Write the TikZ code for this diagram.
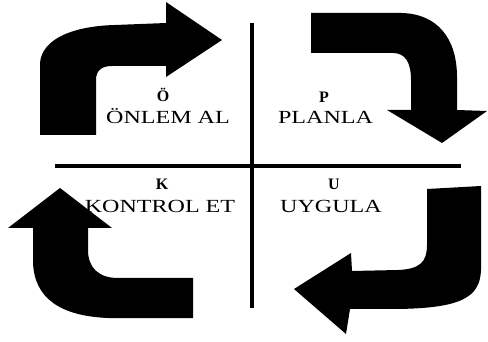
\documentclass[tikz,border=0pt]{standalone}
\usepackage{fontspec}
\setmainfont{Liberation Serif}
\newfontfamily\widefont[FakeStretch=1.3]{Liberation Serif}
\begin{document}
\begin{tikzpicture}[x=1pt,y=-1pt,
  bigarrow/.style={fill=black,draw=none},
  axisline/.style={line width=4pt,draw=black},
  initial/.style={font=\bfseries\fontsize{16}{17}\selectfont,anchor=base,inner sep=0pt},
  word/.style={font=\widefont\fontsize{18.5}{19}\selectfont,anchor=base,inner sep=0pt}]
\useasboundingbox[fill=white] (0,0) rectangle (488,342);

% quadrant axes
\coordinate (vtop) at (251.5,23);
\coordinate (vbot) at (251.5,308);
\coordinate (hleft) at (55,166.5);
\coordinate (hright) at (461,166.5);
\draw[axisline] (vtop) -- (vbot);
\draw[axisline] (hleft) -- (hright);

% top-left arrow, pointing right
\fill[bigarrow] (40,135) -- (40,63)
  .. controls (42,38) and (75,26) .. (115,25) -- (166,23)
  -- (166,2) -- (222,40) -- (166,77) -- (166,66) -- (112,66)
  .. controls (101,66) and (96,71) .. (96,80) -- (96,135) -- cycle;

% top-right arrow, pointing down
\fill[bigarrow] (311,13) -- (402,13)
  .. controls (437,14) and (457,38) .. (457,77) -- (457,110)
  -- (487,111) -- (442,143) -- (387,110) -- (411,110) -- (411,80)
  .. controls (411,62) and (405,53) .. (393,53) -- (311,53) -- cycle;

% bottom-right arrow, pointing left
\fill[bigarrow] (427,189) -- (481,186) -- (481,270)
  .. controls (480,298) and (460,308) .. (398,309) -- (350,309)
  -- (346,334) -- (294,289) -- (351,253) -- (352,271) -- (398,270)
  .. controls (420,269) and (427,262) .. (427,245) -- cycle;

% bottom-left arrow, pointing up
\fill[bigarrow] (60,188) -- (112,228) -- (88,228) -- (88,250)
  .. controls (88,268) and (99,278) .. (118,278) -- (193,278)
  -- (193,318) -- (108,318)
  .. controls (60,316) and (34,298) .. (33,262) -- (33,228)
  -- (8,228) -- cycle;

% quadrant labels
\node[initial] (oi) at (163,102) {Ö};
\node[word] (ow) at (168,124) {ÖNLEM AL};
\node[initial] (pi) at (324,103) {P};
\node[word] (pw) at (325.5,124) {PLANLA};
\node[initial] (ki) at (162,190) {K};
\node[word] (kw) at (160,213) {KONTROL ET};
\node[initial] (ui) at (334,190) {U};
\node[word] (uw) at (331,213) {UYGULA};
\end{tikzpicture}
\end{document}
